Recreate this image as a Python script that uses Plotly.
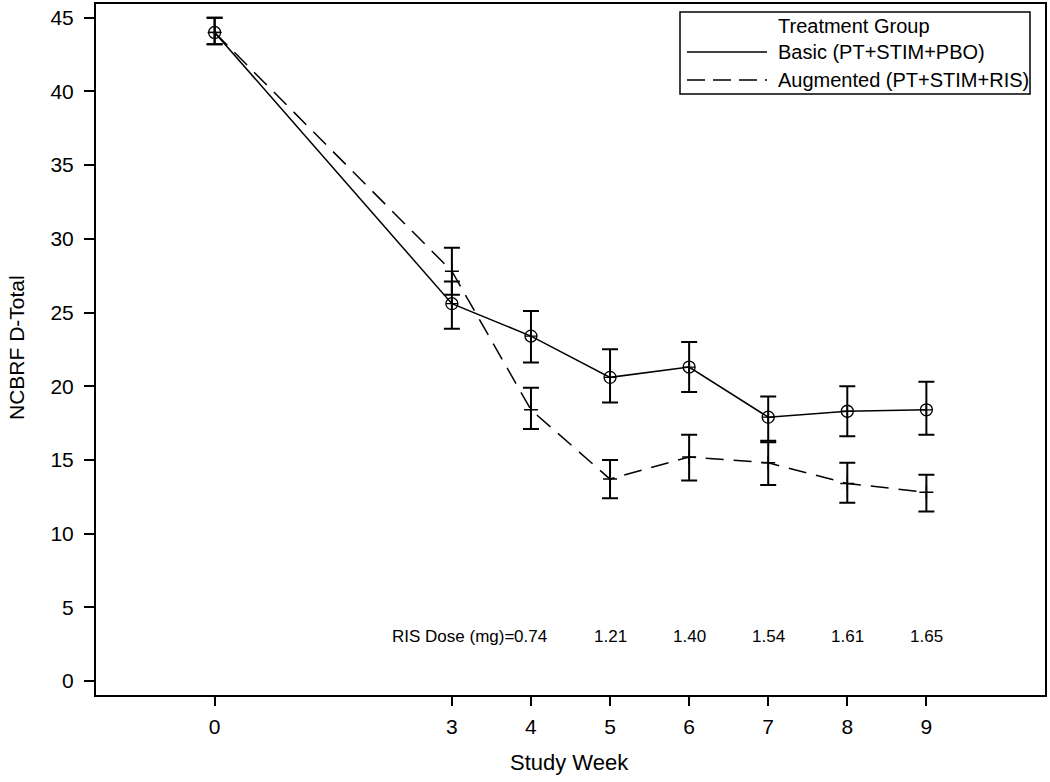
import plotly.graph_objects as go

weeks = [0, 3, 4, 5, 6, 7, 8, 9]
basic_mean = [44.0, 25.6, 23.4, 20.6, 21.3, 17.9, 18.3, 18.4]
basic_lo = [43.2, 23.9, 21.6, 18.9, 19.6, 16.3, 16.6, 16.7]
basic_hi = [45.0, 27.1, 25.1, 22.5, 23.0, 19.3, 20.0, 20.3]
aug_mean = [44.0, 27.8, 18.4, 13.7, 15.2, 14.8, 13.4, 12.8]
aug_lo = [43.2, 26.2, 17.1, 12.4, 13.6, 13.3, 12.1, 11.5]
aug_hi = [45.0, 29.4, 19.9, 15.0, 16.7, 16.2, 14.8, 14.0]

dose_weeks = [4, 5, 6, 7, 8, 9]
dose_vals = ["0.74", "1.21", "1.40", "1.54", "1.61", "1.65"]
dose_prefix = "RIS Dose (mg)="
dose_y = 3

x_ticks = [0, 3, 4, 5, 6, 7, 8, 9]
y_ticks = [0, 5, 10, 15, 20, 25, 30, 35, 40, 45]

legend_title = "Treatment Group"
series_names = ["Basic (PT+STIM+PBO)", "Augmented (PT+STIM+RIS)"]
x_title = "Study Week"
y_title = "NCBRF D-Total"

FONT = "Liberation Sans, Arial, sans-serif"
W, H = 1050, 782
L, R, T, B = 96, 5, 4, 87

def px_x(p):
    return (p - L) / (W - L - R)

def px_y(p):
    return (H - B - p) / (H - T - B)

fig = go.Figure()

fig.add_trace(go.Scatter(
    x=weeks, y=basic_mean, mode="lines+markers", name=series_names[0],
    line=dict(color="black", width=1.5),
    marker=dict(symbol="circle-cross-open", size=12, color="black", line=dict(width=1.3, color="black")),
    error_y=dict(type="data", symmetric=False,
                 array=[h - m for h, m in zip(basic_hi, basic_mean)],
                 arrayminus=[m - l for m, l in zip(basic_mean, basic_lo)],
                 color="black", thickness=2, width=8),
    showlegend=False,
))

fig.add_trace(go.Scatter(
    x=weeks, y=aug_mean, mode="lines+markers", name=series_names[1],
    line=dict(color="black", width=1.5, dash="18px,10px"),
    marker=dict(symbol="cross-thin-open", size=10, color="black", line=dict(width=1.5, color="black")),
    error_y=dict(type="data", symmetric=False,
                 array=[h - m for h, m in zip(aug_hi, aug_mean)],
                 arrayminus=[m - l for m, l in zip(aug_mean, aug_lo)],
                 color="black", thickness=2, width=8),
    showlegend=False,
))

DOSE_SIZE = 17
annotations = []
for i, (wk, dv) in enumerate(zip(dose_weeks, dose_vals)):
    annotations.append(dict(x=wk, y=dose_y, xref="x", yref="y", text=dv,
                            showarrow=False, xanchor="center",
                            font=dict(family=FONT, size=DOSE_SIZE, color="black")))
    if i == 0:
        annotations.append(dict(x=wk, y=dose_y, xref="x", yref="y", text=dose_prefix,
                                showarrow=False, xanchor="right", xshift=-15,
                                font=dict(family=FONT, size=DOSE_SIZE, color="black")))

# axis titles
annotations.append(dict(x=px_x(16), y=px_y(348), xref="paper", yref="paper", text=y_title,
                        showarrow=False, textangle=-90, xanchor="center", yanchor="middle",
                        font=dict(family=FONT, size=21, color="black")))
annotations.append(dict(x=px_x(569), y=px_y(762), xref="paper", yref="paper", text=x_title,
                        showarrow=False, xanchor="center", yanchor="middle",
                        font=dict(family=FONT, size=22, color="black")))

# Legend (drawn manually)
shapes = [
    dict(type="rect", xref="paper", yref="paper",
         x0=px_x(680), x1=px_x(1030), y0=px_y(94), y1=px_y(12),
         line=dict(color="black", width=1.5), fillcolor="white", layer="above"),
    dict(type="line", xref="paper", yref="paper",
         x0=px_x(687), x1=px_x(767), y0=px_y(52), y1=px_y(52),
         line=dict(color="black", width=1.5)),
    dict(type="line", xref="paper", yref="paper",
         x0=px_x(687), x1=px_x(767), y0=px_y(80), y1=px_y(80),
         line=dict(color="black", width=1.5, dash="18px,8px")),
]
annotations.append(dict(x=px_x(776), y=px_y(26), xref="paper", yref="paper", text=legend_title,
                        showarrow=False, xanchor="left", yanchor="middle",
                        font=dict(family=FONT, size=20, color="black")))
annotations.append(dict(x=px_x(776), y=px_y(52), xref="paper", yref="paper", text=series_names[0],
                        showarrow=False, xanchor="left", yanchor="middle",
                        font=dict(family=FONT, size=20, color="black")))
annotations.append(dict(x=px_x(776), y=px_y(80), xref="paper", yref="paper", text=series_names[1],
                        showarrow=False, xanchor="left", yanchor="middle",
                        font=dict(family=FONT, size=20, color="black")))

fig.update_layout(
    width=W, height=H,
    margin=dict(l=L, r=R, t=T, b=B, autoexpand=False),
    paper_bgcolor="white", plot_bgcolor="white",
    font=dict(family=FONT, size=21, color="black"),
    shapes=shapes, annotations=annotations,
    showlegend=False,
)

fig.update_xaxes(
    range=[-1.5, 10.5], tickvals=x_ticks, ticktext=[str(v) for v in x_ticks],
    showgrid=False, zeroline=False, showline=True, linecolor="black", linewidth=2, mirror=True,
    ticks="outside", ticklen=9, tickwidth=1.5, tickcolor="black", automargin=False,
    ticklabelstandoff=3,
    tickfont=dict(family=FONT, size=21, color="black"),
)
fig.update_yaxes(
    range=[-0.95, 45.93], tickvals=y_ticks, ticktext=[str(v) for v in y_ticks],
    showgrid=False, zeroline=False, showline=True, linecolor="black", linewidth=2, mirror=True,
    ticks="outside", ticklen=10, tickwidth=1.5, tickcolor="black", automargin=False,
    ticklabelstandoff=6,
    tickfont=dict(family=FONT, size=21, color="black"),
)

fig.write_html("out.html", config={"displayModeBar": False},
               post_script="document.body.style.margin='0px';document.body.style.padding='0px';")
